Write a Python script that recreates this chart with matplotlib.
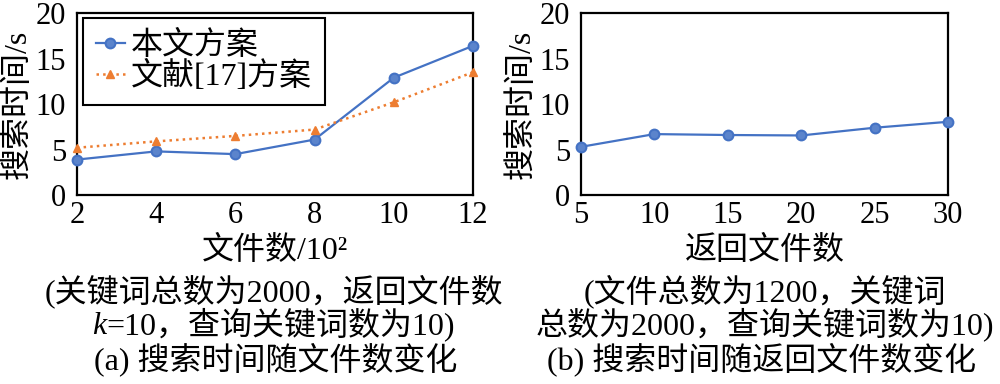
import numpy as np
import matplotlib
matplotlib.use('Agg')
from matplotlib import pyplot as plt

# data
files = [2, 4, 6, 8, 10, 12]
ours_a = [3.9, 4.8, 4.5, 6.1, 12.9, 16.4]
ref17_a = [5.2, 5.9, 6.5, 7.2, 10.2, 13.5]

returned = [5, 10, 15, 20, 25, 30]
ours_b = [5.3, 6.7, 6.6, 6.55, 7.4, 8.05]

yticks = [0, 5, 10, 15, 20]
series_names = ['本文方案', '文献[17]方案']

fam = ['Liberation Serif', 'Noto Sans CJK SC']
plt.rcParams['font.family'] = fam
plt.rcParams['font.size'] = 22

blue = '#4472C4'
orange = '#ED7D31'

fig = plt.figure(figsize=(10, 3.84), dpi=100)
axa = fig.add_axes([0.077, 0.492, 0.396, 0.474])
axb = fig.add_axes([0.581, 0.492, 0.367, 0.474])

for ax in (axa, axb):
    ax.set_ylim(0, 20)
    ax.set_yticks(yticks)
    ax.tick_params(axis='y', length=0, pad=8, labelsize=22)
    ax.tick_params(axis='x', length=0, pad=4, labelsize=22)
    for s in ax.spines.values():
        s.set_linewidth(1.6)
        s.set_color('black')
    ax.set_ylabel('搜索时间/s', fontsize=23, labelpad=2)

axa.plot(files, ours_a, '-o', color=blue, lw=1.6, ms=7, mfc='#5B84CC', mec=blue,
         mew=1.5, clip_on=False, zorder=3, label=series_names[0])
axa.plot(files, ref17_a, ':^', color=orange, lw=1.8, ms=6, mfc=orange, mec=orange,
         clip_on=False, zorder=3, label=series_names[1])
axa.set_xlim(2, 12)
axa.set_xticks(files)

axb.plot(returned, ours_b, '-o', color=blue, lw=1.6, ms=7, mfc='#5B84CC', mec=blue,
         mew=1.5, clip_on=False, zorder=3)
axb.set_xlim(5, 30)
axb.set_xticks(returned)

leg = axa.legend(loc='upper left', bbox_to_anchor=(0.083, 1 - 18 / 384),
                 bbox_transform=fig.transFigure, borderaxespad=0, fancybox=False,
                 edgecolor='black', framealpha=1, handlelength=0.9,
                 handletextpad=0.2, borderpad=0.4, labelspacing=0.0, fontsize=23)
leg.get_frame().set_linewidth(1.5)

# captions below the panels
cap = 23
fig.text(0.275, 1 - 251 / 384, '文件数/10²', ha='center', va='center', fontsize=cap)
fig.text(0.274, 1 - 291 / 384, '(关键词总数为2000，返回文件数', ha='center', va='center',
         fontsize=cap)
rest = fig.text(0.281, 1 - 324 / 384, '=10，查询关键词数为10)', ha='center', va='center',
                fontsize=cap)
axa.annotate('k', xy=(0, 0), xycoords=rest, ha='right', va='bottom',
             fontstyle='italic', fontsize=cap, annotation_clip=False)
fig.text(0.276, 1 - 359 / 384, '(a) 搜索时间随文件数变化', ha='center', va='center',
         fontsize=cap)

fig.text(0.765, 1 - 251 / 384, '返回文件数', ha='center', va='center', fontsize=cap)
fig.text(0.765, 1 - 291 / 384, '(文件总数为1200，关键词', ha='center', va='center',
         fontsize=cap)
fig.text(0.765, 1 - 324 / 384, '总数为2000，查询关键词数为10)', ha='center', va='center',
         fontsize=cap)
fig.text(0.762, 1 - 359 / 384, '(b) 搜索时间随返回文件数变化', ha='center', va='center',
         fontsize=cap)

fig.savefig('out.png', dpi=100)
